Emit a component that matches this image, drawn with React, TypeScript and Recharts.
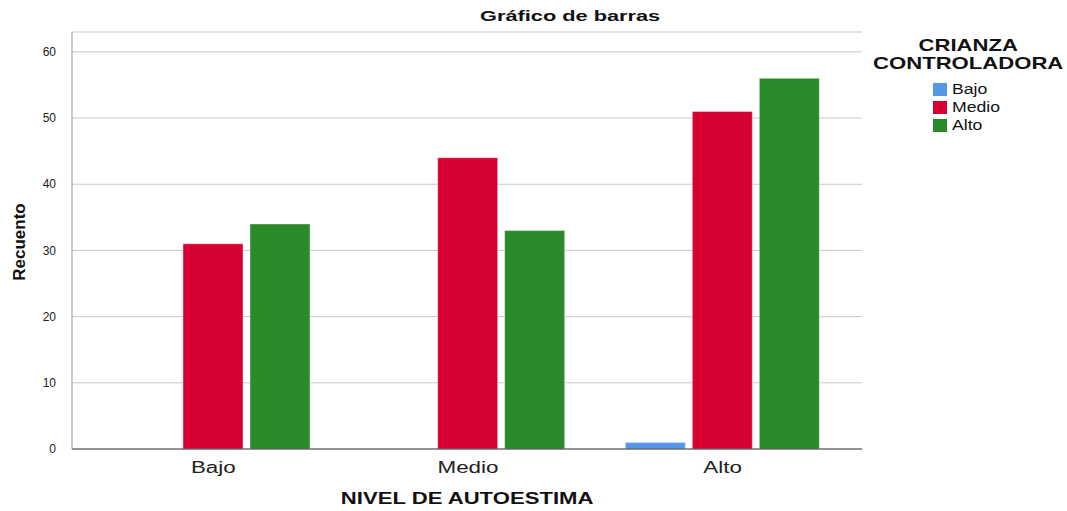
import { BarChart, Bar, XAxis, YAxis, CartesianGrid } from 'recharts';

// Niveles de autoestima (eje X)
const categories = ['Bajo', 'Medio', 'Alto'];
// Recuento por nivel de crianza controladora
const bajoValues = [0, 0, 1];
const medioValues = [31, 44, 51];
const altoValues = [34, 33, 56];
const yTicks = [0, 10, 20, 30, 40, 50, 60];

const seriesNames = ['Bajo', 'Medio', 'Alto'];
const COLORS = ['#5596e6', '#d70033', '#2a8a2a'];

const data = categories.map((c, i) => ({
  name: c,
  bajo: bajoValues[i],
  medio: medioValues[i],
  alto: altoValues[i],
}));

const FONT = '"Liberation Sans", Arial, sans-serif';

// el texto del original sale más ancho, se estira en horizontal
const Wide = ({ sx, children }: { sx: number; children: any }) => (
  <span style={{ display: 'inline-block', transform: `scaleX(${sx})`, whiteSpace: 'nowrap' }}>{children}</span>
);

const XTick = ({ x, y, payload }: any) => (
  <g transform={`translate(${x},${y})`}>
    <text transform="scale(1.4,1)" x={0} y={0} dy={14} textAnchor="middle" fontSize={16} fill="#222" fontFamily={FONT}>
      {payload.value}
    </text>
  </g>
);

export default function App() {
  return (
    <div style={{ position: 'absolute', left: 0, top: 0, width: 1067, height: 511, fontFamily: FONT, background: '#fff' }}>
      <div style={{ position: 'absolute', left: 0, width: 1141, top: 7, textAlign: 'center', fontWeight: 'bold', fontSize: 15, color: '#111' }}>
        <Wide sx={1.45}>Gráfico de barras</Wide>
      </div>
      <BarChart
        width={1067}
        height={511}
        data={data}
        margin={{ top: 32, right: 205, left: 0, bottom: 32 }}
        barGap={7}
        barCategoryGap="12%"
      >
        <CartesianGrid vertical={false} stroke="#c8c8c8" />
        <XAxis
          dataKey="name"
          height={30}
          padding={{ left: 14, right: 12 }}
          tickLine={false}
          axisLine={{ stroke: '#444' }}
          tick={<XTick />}
          tickMargin={4}
        />
        <YAxis
          width={72}
          domain={[0, 63]}
          ticks={yTicks}
          tickLine={false}
          axisLine={{ stroke: '#999' }}
          tick={{ fontSize: 12, fill: '#222', fontFamily: FONT }}
          tickMargin={10}
          allowDataOverflow
        />
        <Bar dataKey="bajo" name={seriesNames[0]} fill={COLORS[0]} stroke="#ffffff" strokeOpacity={0.4} barSize={60} isAnimationActive={false} />
        <Bar dataKey="medio" name={seriesNames[1]} fill={COLORS[1]} stroke="#ffffff" strokeOpacity={0.4} barSize={60} isAnimationActive={false} />
        <Bar dataKey="alto" name={seriesNames[2]} fill={COLORS[2]} stroke="#ffffff" strokeOpacity={0.4} barSize={60} isAnimationActive={false} />
      </BarChart>
      <div
        style={{
          position: 'absolute',
          left: 6,
          top: 242,
          transform: 'translate(-50%, -50%) rotate(-90deg)',
          marginLeft: 14,
          fontWeight: 'bold',
          fontSize: 17,
          color: '#111',
          whiteSpace: 'nowrap',
        }}
      >
        Recuento
      </div>
      <div style={{ position: 'absolute', left: 72, width: 790, top: 489, textAlign: 'center', fontWeight: 'bold', fontSize: 17, color: '#111' }}>
        <Wide sx={1.3}>NIVEL DE AUTOESTIMA</Wide>
      </div>
      <div style={{ position: 'absolute', left: 868, width: 200, top: 37, textAlign: 'center', fontWeight: 'bold', fontSize: 17, lineHeight: '18px', color: '#111' }}>
        <Wide sx={1.3}>CRIANZA</Wide>
        <br />
        <Wide sx={1.3}>CONTROLADORA</Wide>
      </div>
      <div style={{ position: 'absolute', left: 933, top: 80 }}>
        {seriesNames.map((n, i) => (
          <div key={n} style={{ display: 'flex', alignItems: 'center', height: 18 }}>
            <span style={{ width: 14, height: 13, background: COLORS[i], display: 'inline-block', marginRight: 5 }} />
            <span style={{ fontSize: 14, color: '#111', display: 'inline-block', transform: 'scaleX(1.26)', transformOrigin: 'left center' }}>{n}</span>
          </div>
        ))}
      </div>
    </div>
  );
}
